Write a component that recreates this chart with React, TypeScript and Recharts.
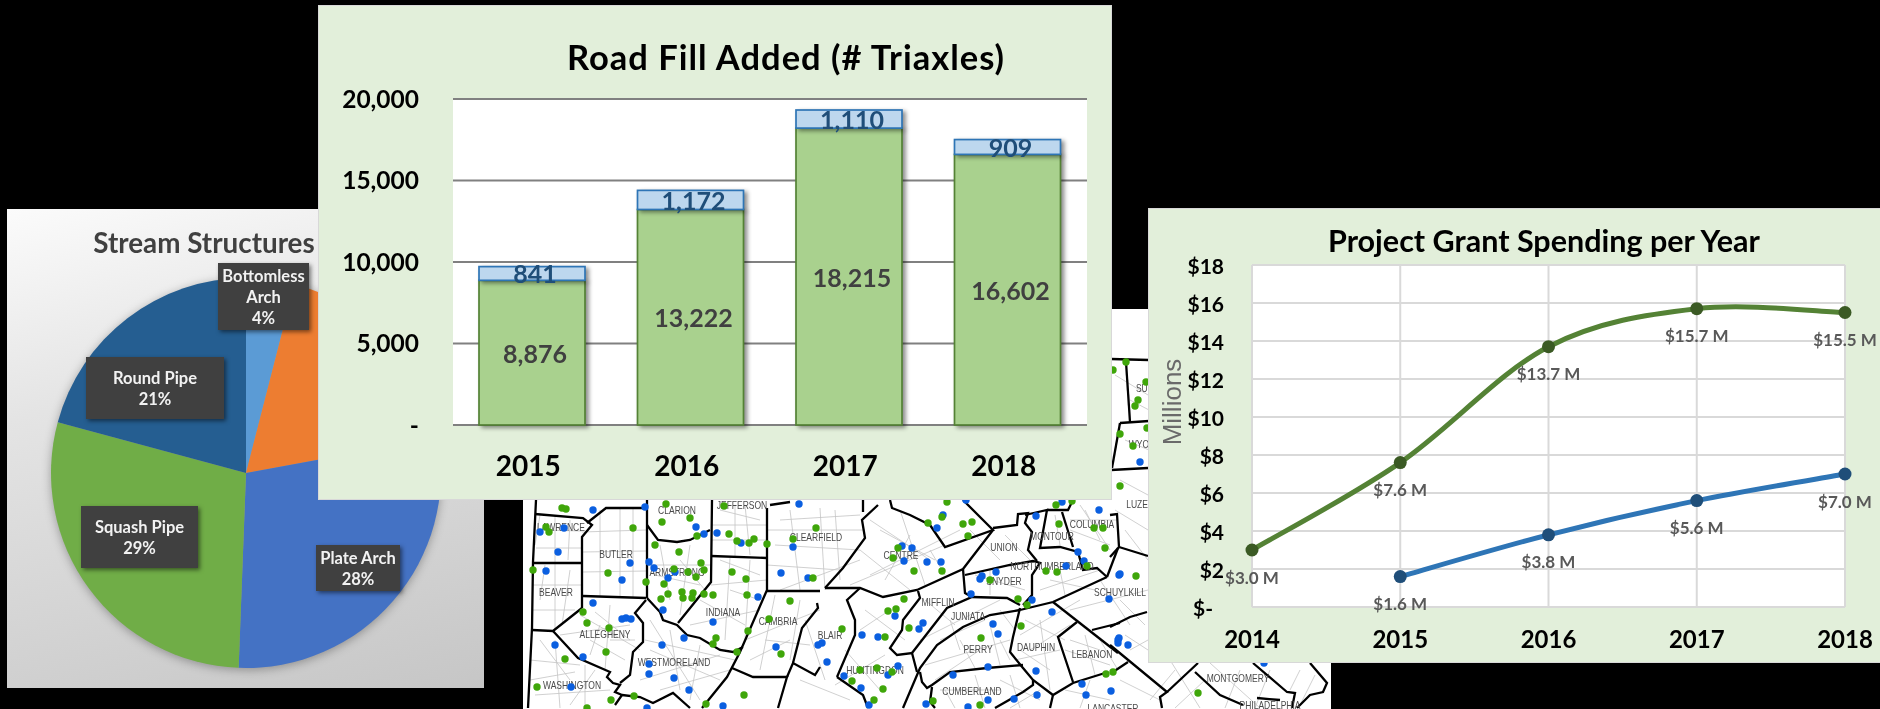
import React from 'react';
import {
  BarChart, Bar, LineChart, Line, PieChart, Pie, Cell, ScatterChart, Scatter,
  XAxis, YAxis, CartesianGrid, LabelList,
} from 'recharts';

// ---- Road fill chart data
const roadYears = ['2015', '2016', '2017', '2018'];
const roadBase = [8876, 13222, 18215, 16602];
const roadAdded = [841, 1172, 1110, 909];
const roadTicks = [0, 5000, 10000, 15000, 20000];

// ---- Grant spending data
const grantYears = ['2014', '2015', '2016', '2017', '2018'];
const grantTotal = [3.0, 7.6, 13.7, 15.7, 15.5];
const grantProject: (number | null)[] = [null, 1.6, 3.8, 5.6, 7.0];
const grantTicks = [0, 2, 4, 6, 8, 10, 12, 14, 16, 18];

// ---- Stream structures data
const pieNames = ['Bottomless Arch', 'Other', 'Plate Arch', 'Squash Pipe', 'Round Pipe'];
const pieValues = [4, 18.1, 28.5, 28.6, 20.8];
const piePercent = ['4%', '', '28%', '29%', '21%'];
const pieColors = ['#5B9BD5', '#ED7D31', '#4472C4', '#70AD47', '#255E91'];

// ---- Map data, in map units
type P = [number, number];
const greenSites: P[] = [[562,508],[566,509],[633,528],[662,522],[666,504],[690,518],[724,506],[729,534],[737,541],[749,543],[754,539],[767,544],[816,528],[793,539],[546,527],[549,532],[697,536],[655,545],[679,552],[533,570],[608,573],[646,582],[664,584],[674,569],[688,572],[696,577],[701,563],[704,570],[732,572],[746,579],[813,578],[661,599],[668,594],[682,592],[683,598],[692,598],[693,593],[704,594],[713,595],[747,595],[790,601],[583,612],[587,623],[609,628],[769,619],[748,631],[716,638],[713,644],[737,652],[606,652],[781,654],[565,659],[537,687],[611,700],[634,696],[744,695],[706,704],[587,708],[947,502],[928,523],[942,517],[963,524],[972,522],[968,536],[1056,505],[1072,501],[1059,524],[1094,528],[1103,528],[1105,548],[898,548],[893,558],[914,571],[942,571],[1046,571],[1057,572],[1087,566],[990,580],[1018,599],[1027,605],[904,599],[888,611],[896,609],[842,629],[909,628],[885,637],[1021,626],[981,638],[860,670],[877,668],[892,672],[852,681],[883,689],[874,700],[933,701],[980,705],[1106,674],[1113,672],[1126,362],[1113,370],[1146,382],[1138,400],[1135,406],[1120,434],[1133,446],[1147,428],[1120,486],[1136,576],[1198,693]];
const blueSites: P[] = [[593,510],[645,507],[799,504],[540,532],[564,528],[558,552],[696,527],[704,534],[717,533],[741,543],[793,547],[630,563],[649,562],[654,568],[668,578],[622,580],[675,572],[781,573],[808,578],[546,571],[593,603],[663,610],[758,597],[622,619],[626,618],[631,619],[713,622],[684,638],[662,645],[555,645],[583,657],[776,647],[818,645],[649,664],[649,674],[674,678],[689,690],[571,687],[723,706],[647,708],[966,500],[1062,502],[1036,516],[1099,510],[943,515],[937,528],[902,546],[912,548],[904,561],[927,562],[941,562],[1078,552],[1084,561],[1066,566],[996,572],[982,576],[980,579],[971,594],[1032,600],[1052,612],[1109,599],[1119,575],[923,623],[919,629],[895,616],[993,624],[998,634],[862,635],[878,637],[822,643],[827,662],[898,666],[888,675],[844,676],[861,688],[869,705],[926,704],[988,667],[953,675],[1036,671],[1082,684],[1111,691],[1086,695],[1037,695],[1014,699],[988,700],[968,707],[1118,640],[1140,462],[1120,574],[1119,638],[1118,643],[1128,645],[1264,663]];
const countyLines: P[][] = [
  [[536,500],[533,562],[532,628],[528,708]],
  [[535,514],[583,518],[592,525],[582,537],[582,595],[582,608]],
  [[587,523],[606,508],[646,508]],
  [[647,500],[647,598]],
  [[533,563],[582,563]],
  [[583,596],[646,598]],
  [[647,598],[660,612],[663,620],[677,625],[687,635],[700,638],[720,650],[733,652],[743,647]],
  [[647,525],[658,540],[677,542],[690,540],[710,530]],
  [[712,500],[711,582],[678,623]],
  [[711,556],[767,558]],
  [[767,508],[767,590],[740,652],[727,677],[702,708]],
  [[770,505],[790,502]],
  [[767,591],[820,591]],
  [[582,608],[553,631],[532,630]],
  [[553,631],[578,658],[610,672],[607,677],[613,683],[620,685],[615,692],[622,695],[615,705]],
  [[646,600],[635,613],[643,623],[643,642],[633,652],[630,675],[620,683]],
  [[622,695],[640,697],[653,703],[673,693],[690,708]],
  [[732,668],[753,677],[787,677],[778,708]],
  [[787,677],[793,663],[815,675],[820,667]],
  [[793,663],[802,628],[818,608],[817,603]],
  [[825,588],[843,568],[865,538],[862,520],[878,505]],
  [[863,512],[863,500]],
  [[890,500],[892,508],[910,515],[930,525],[945,547],[993,530],[963,500]],
  [[825,588],[860,588],[883,597],[917,590],[963,569],[993,530]],
  [[860,588],[847,600],[855,620],[855,635],[837,677]],
  [[918,591],[920,598],[903,620],[902,630],[890,648],[897,655],[912,653],[917,672]],
  [[912,653],[947,608],[972,597],[1007,598],[1020,605]],
  [[963,569],[965,593],[972,597]],
  [[965,575],[1010,565],[1033,561],[1040,563],[1032,575],[1032,595],[1023,605]],
  [[993,528],[1017,525],[1018,514],[1028,513],[1025,523],[1032,532],[1028,550],[1037,561]],
  [[1025,515],[1047,510],[1040,548],[1060,547],[1078,552],[1083,570],[1097,568],[1107,577]],
  [[1062,512],[1073,547]],
  [[1047,510],[1068,510],[1073,500]],
  [[1020,610],[990,615],[963,627],[937,645],[920,668],[903,708]],
  [[1107,577],[1118,548]],
  [[1107,577],[1053,602],[1020,610]],
  [[1053,602],[1118,653]],
  [[1077,622],[1058,637],[1073,682]],
  [[1092,630],[1120,623]],
  [[1020,608],[1013,637],[1010,652],[1023,668],[1033,680],[1053,695],[1073,683],[1105,673]],
  [[920,672],[922,682],[927,688],[932,685],[950,672],[987,668],[1023,665]],
  [[932,687],[930,702],[935,708]],
  [[837,677],[863,695],[868,708]],
  [[1053,695],[1050,708]],
  [[1033,680],[1033,685],[1023,692],[995,708]],
  [[1110,515],[1117,514],[1119,547],[1110,557]],
  [[1119,547],[1148,556]],
  [[1110,627],[1130,617],[1147,612]],
  [[1110,645],[1167,692],[1160,697],[1162,708]],
  [[1113,672],[1128,662]],
  [[1167,692],[1198,663]],
  [[1195,672],[1220,695],[1243,705]],
  [[1253,663],[1287,692],[1295,693],[1292,708]],
  [[1257,698],[1280,700]],
  [[1310,663],[1327,683],[1323,692],[1310,695],[1297,708]],
  [[1111,359],[1149,360]],
  [[1126,362],[1130,422]],
  [[1120,423],[1149,421]],
  [[1120,423],[1112,468]],
  [[1111,470],[1148,468]],
];
const townshipLines: P[][] = [
  [[582,532],[646,530]],[[582,552],[646,551]],[[582,572],[646,571]],[[600,510],[600,596]],[[620,508],[620,596]],[[633,508],[633,597]],
  [[536,530],[582,531]],[[536,548],[582,548]],[[555,516],[555,562]],
  [[533,585],[582,585]],[[555,563],[555,630]],[[533,610],[575,610]],
  [[648,565],[711,565]],[[660,545],[670,600]],[[690,545],[680,615]],
  [[712,525],[767,525]],[[735,505],[735,556]],[[712,540],[767,540]],
  [[767,530],[865,530]],[[790,510],[800,590]],[[820,508],[825,590]],[[767,565],[840,570]],
  [[711,585],[767,580]],[[730,558],[725,640]],[[690,625],[760,610]],[[750,560],[745,640]],
  [[645,640],[735,660]],[[640,680],[720,655]],[[670,630],[680,690]],[[700,645],[690,700]],
  [[580,615],[640,650]],[[610,605],[605,670]],[[560,635],[630,625]],
  [[530,660],[580,665]],[[555,640],[560,708]],[[535,695],[610,690]],[[585,665],[585,708]],
  [[745,640],[820,610]],[[775,595],[760,670]],[[800,600],[790,660]],
  [[870,575],[960,530]],[[880,530],[935,560]],[[900,510],[925,585]],[[850,585],[945,545]],
  [[920,640],[1000,600]],[[950,620],[960,650]],
  [[925,665],[1010,640]],[[960,640],[975,668]],[[990,625],[1000,665]],
  [[1020,635],[1080,600]],[[1015,660],[1060,650]],[[1040,620],[1050,690]],
  [[1065,650],[1110,665]],[[1085,635],[1095,675]],
  [[1040,590],[1100,570]],[[1060,570],[1065,595]],
  [[1080,505],[1110,550]],[[1070,520],[1118,520]],
  [[1070,610],[1148,590]],[[1100,580],[1130,625]],
  [[1170,660],[1200,708]],[[1210,663],[1260,708]],
  [[1115,375],[1148,395]],[[1130,400],[1149,410]],[[1125,440],[1149,450]],[[1120,480],[1148,495]],[[1115,510],[1148,530]],[[1125,530],[1148,560]],
  [[800,680],[850,700]],[[1000,680],[1040,700]],[[940,690],[1000,690]],[[1120,680],[1160,700]],
  [[540,515],[535,545]],[[570,520],[568,560]],[[545,565],[540,600]],[[570,570],[562,625]],[[590,640],[625,660]],[[595,612],[630,640]],[[600,625],[590,655]],
  [[610,640],[635,640]],[[540,640],[570,680]],[[530,680],[575,672]],[[595,670],[570,705]],[[650,620],[700,700]],[[650,650],[720,680]],[[660,690],[730,670]],
  [[730,590],[760,600]],[[700,600],[745,625]],[[720,560],[760,575]],[[680,560],[705,590]],[[655,575],[700,585]],[[720,510],[760,520]],[[745,505],[750,555]],
  [[780,520],[860,515]],[[775,545],[860,550]],[[835,510],[840,580]],[[780,590],[860,560]],[[765,640],[810,645]],[[750,660],[790,640]],[[805,620],[825,680]],
  [[870,520],[930,560]],[[860,550],[910,590]],[[910,535],[885,580]],[[930,550],[945,575]],[[865,610],[905,640]],[[860,630],[890,610]],[[845,650],[880,690]],[[835,685],[885,655]],
  [[970,530],[1000,560]],[[1005,535],[1030,560]],[[975,575],[1025,590]],[[990,570],[990,595]],[[925,600],[955,625]],[[940,640],[985,620]],[[1000,610],[1015,630]],
  [[935,680],[980,650]],[[1000,640],[1010,660]],[[945,690],[955,708]],[[975,675],[985,708]],[[1010,675],[1020,708]],[[1040,690],[1010,708]],
  [[1025,620],[1065,640]],[[1030,650],[1070,625]],[[1020,650],[1050,670]],[[1070,640],[1100,650]],[[1100,640],[1118,670]],[[1065,690],[1110,700]],[[1090,680],[1080,708]],
  [[1055,515],[1060,545]],[[1085,510],[1100,540]],[[1070,530],[1110,545]],[[1050,580],[1095,590]],[[1120,600],[1145,625]],[[1125,635],[1148,650]],[[1130,650],[1148,640]],
  [[1175,670],[1150,700]],[[1205,680],[1175,708]],[[1240,670],[1225,708]],[[1270,670],[1255,708]],[[1300,670],[1290,690]],[[1315,675],[1300,705]],
];
const countyNames = ['LAWRENCE','BUTLER','ARMSTRONG','CLARION','JEFFERSON','BEAVER','INDIANA','CAMBRIA','ALLEGHENY','WESTMORELAND','WASHINGTON','CLEARFIELD','CENTRE','UNION','MONTOUR','COLUMBIA','NORTHUMBERLAND','SNYDER','MIFFLIN','JUNIATA','BLAIR','HUNTINGDON','PERRY','DAUPHIN','LEBANON','CUMBERLAND','SCHUYLKILL','LUZERNE','SUSQ','WYOMING','MONTGOMERY','PHILADELPHIA','LANCASTER'];
const countyX = [561,616,677,677,742,556,723,778,605,674,572,816,901,1004,1052,1092,1052,1004,938,968,830,875,978,1036,1092,972,1120,1146,1148,1150,1238,1270,1113];
const countyY = [527,554,572,510,505,592,612,621,634,662,685,537,555,547,536,524,566,581,602,616,635,670,649,647,654,691,592,504,388,444,678,705,708];

// ---- Layout constants
const CALIBRI = 'Lato, "Open Sans", sans-serif';
const pieBoxes = [
  { x: 218, y: 263, w: 91, h: 67, lines: ['Bottomless', 'Arch'] },
  null,
  { x: 316, y: 545, w: 84, h: 46, lines: ['Plate Arch'] },
  { x: 81, y: 506, w: 117, h: 62, lines: ['Squash Pipe'] },
  { x: 86, y: 357, w: 138, h: 62, lines: ['Round Pipe'] },
];
const PIE_LEFT = 7;
const PIE_TOP = 209;

const roadRows = roadYears.map((year, i) => ({ year, base: roadBase[i], added: roadAdded[i] }));
const grantRows = grantYears.map((year, i) => ({ year, total: grantTotal[i], project: grantProject[i] }));
const pieRows = pieNames.map((name, i) => ({ name, value: pieValues[i] }));
const countyRows = countyNames.map((name, i) => ({ name, x: countyX[i], y: countyY[i] }));
const toRows = (pts: P[]) => pts.map(([x, y]) => ({ x, y }));

// Excel-style smoothing of a line through its points
function excelCurve(context: any) {
  let pts: number[][] = [];
  return {
    areaStart() {},
    areaEnd() {},
    lineStart() { pts = []; },
    point(x: number, y: number) { pts.push([x, y]); },
    lineEnd() {
      const n = pts.length;
      if (!n) return;
      context.moveTo(pts[0][0], pts[0][1]);
      for (let i = 0; i < n - 1; i++) {
        const p0 = pts[Math.max(i - 1, 0)], p1 = pts[i], p2 = pts[i + 1], p3 = pts[Math.min(i + 2, n - 1)];
        context.bezierCurveTo(
          p1[0] + (p2[0] - p0[0]) / 6, p1[1] + (p2[1] - p0[1]) / 6,
          p2[0] - (p3[0] - p1[0]) / 6, p2[1] - (p3[1] - p1[1]) / 6,
          p2[0], p2[1],
        );
      }
    },
  };
}

const panel = (left: number, top: number, width: number, height: number, background: string): React.CSSProperties => ({
  position: 'absolute', left, top, width, height, background, boxSizing: 'border-box',
});

function PieLabel(props: any) {
  const box = pieBoxes[props.index];
  if (!box) return null;
  const bx = box.x - PIE_LEFT, by = box.y - PIE_TOP;
  const all = [...box.lines, piePercent[props.index]];
  const step = 21;
  const start = by + box.h / 2 - ((all.length - 1) * step) / 2;
  return (
    <g>
      <rect x={bx} y={by} width={box.w} height={box.h} fill="#404040" style={{ filter: 'drop-shadow(2px 2px 2px rgba(0,0,0,.5))' }} />
      {all.map((t, i) => (
        <text key={i} x={bx + box.w / 2} y={start + i * step} textAnchor="middle" dominantBaseline="central"
          fontFamily={CALIBRI} fontWeight={700} fontSize={16.5} fill="#F2F2F2">{t}</text>
      ))}
    </g>
  );
}

function ShadowBar(props: any) {
  const { x, y, width, height, fill, stroke } = props;
  return <rect x={x} y={y} width={width} height={height} fill={fill} stroke={stroke} strokeWidth={1.7}
    style={{ filter: 'drop-shadow(3px 2px 2px rgba(0,0,0,.45))' }} />;
}

const barLabel = (color: string) => (props: any) => {
  const { x, y, width, height, value } = props;
  return (
    <text x={x + width / 2 + 3} y={y + height / 2} textAnchor="middle" dominantBaseline="central"
      fontFamily={CALIBRI} fontWeight={700} fontSize={25} fill={color}>{Number(value).toLocaleString('en-US')}</text>
  );
};

const grantLabel = (props: any) => {
  const { x, y, value } = props;
  if (value == null) return null;
  return (
    <text x={x} y={y + 27} textAnchor="middle" dominantBaseline="central"
      fontFamily={CALIBRI} fontWeight={700} fontSize={17} fill="#595959">{`$${Number(value).toFixed(1)} M`}</text>
  );
};

const grantTick = (props: any) => {
  const { x, y, payload } = props;
  const zero = payload.value === 0;
  return (
    <text x={zero ? x - 11 : x} y={y} textAnchor="end" dominantBaseline="central"
      fontFamily={CALIBRI} fontWeight={700} fontSize={21} fill="#000">{zero ? '$-' : `$${payload.value}`}</text>
  );
};

const emptyShape = () => null;
const blueDot = (p: any) => <circle cx={p.cx} cy={p.cy} r={3.7} fill="#0B5FE0" />;
const greenDot = (p: any) => <circle cx={p.cx} cy={p.cy} r={3.7} fill="#3FA60A" />;
const countyText = (p: any) => (
  <text transform={`translate(${p.cx} ${p.cy}) scale(0.81 1)`} textAnchor="middle" dominantBaseline="central"
    fontFamily='"Liberation Sans", sans-serif' fontSize={10.5} fill="#4a4a4a">{p.payload.name}</text>
);

function MapPanel() {
  return (
    <div style={panel(523, 309, 808, 400, '#fff')}>
      <ScatterChart width={808} height={400} margin={{ top: 0, right: 0, bottom: 0, left: 0 }}>
        <XAxis type="number" dataKey="x" domain={[523, 1331]} hide allowDataOverflow />
        <YAxis type="number" dataKey="y" domain={[309, 709]} reversed hide allowDataOverflow />
        {townshipLines.map((l, i) => (
          <Scatter key={'t' + i} data={toRows(l)} shape={emptyShape} line={{ stroke: '#c4c4c4', strokeWidth: 0.8 }} isAnimationActive={false} />
        ))}
        {countyLines.map((l, i) => (
          <Scatter key={'c' + i} data={toRows(l)} shape={emptyShape} line={{ stroke: '#000', strokeWidth: 2.3 }} isAnimationActive={false} />
        ))}
        <Scatter data={countyRows} shape={countyText} isAnimationActive={false} />
        <Scatter data={toRows(blueSites)} shape={blueDot} isAnimationActive={false} />
        <Scatter data={toRows(greenSites)} shape={greenDot} isAnimationActive={false} />
      </ScatterChart>
    </div>
  );
}

function StreamPanel() {
  return (
    <div className="stream" style={panel(PIE_LEFT, PIE_TOP, 477, 479, 'linear-gradient(165deg,#fbfbfb 0%,#e4e4e4 35%,#c6c6c6 100%)')}>
      <style>{'.stream .recharts-pie{filter:drop-shadow(0 2px 5px rgba(0,0,0,.3))}'}</style>
      <PieChart width={477} height={479} margin={{ top: 0, right: 0, bottom: 0, left: 0 }}>
        <text x={197} y={33} textAnchor="middle" dominantBaseline="central" fontFamily={CALIBRI} fontWeight={700} fontSize={27.8} fill="#404040">Stream Structures</text>
        <Pie data={pieRows} dataKey="value" nameKey="name" cx={239} cy={264} outerRadius={195} startAngle={90} endAngle={-270}
          stroke="none" label={PieLabel} labelLine={false} isAnimationActive={false}>
          {pieRows.map((r, i) => <Cell key={r.name} fill={pieColors[i]} />)}
        </Pie>
      </PieChart>
    </div>
  );
}

function RoadPanel() {
  return (
    <div style={{ ...panel(319, 6, 792, 493, '#E2EFDA'), boxShadow: '0 0 0 1px #d8d8d8' }}>
      <BarChart width={792} height={493} data={roadRows} margin={{ top: 93, right: 24, bottom: 0, left: 0 }} barSize={106}>
        <text x={467} y={50} textAnchor="middle" dominantBaseline="central" fontFamily={CALIBRI} fontWeight={700} fontSize={34.5} letterSpacing={1} fill="#000">Road Fill Added (# Triaxles)</text>
        <CartesianGrid vertical={false} fill="#fff" stroke="#808080" strokeWidth={2} />
        <XAxis dataKey="year" height={74} axisLine={false} tickLine={false} tickSize={0} tickMargin={31}
          tick={{ fontFamily: CALIBRI, fontWeight: 700, fontSize: 28, fill: '#000', dx: -4 }} />
        <YAxis width={134} domain={[0, 20000]} ticks={roadTicks} axisLine={false} tickLine={false} tickSize={0} tickMargin={34}
          tickFormatter={(v: number) => (v === 0 ? '-' : v.toLocaleString('en-US'))}
          tick={{ fontFamily: CALIBRI, fontWeight: 700, fontSize: 24.5, fill: '#000' }} />
        <Bar dataKey="base" stackId="a" fill="#A9D18E" stroke="#548235" shape={ShadowBar} isAnimationActive={false}>
          <LabelList dataKey="base" content={barLabel('#404040')} />
        </Bar>
        <Bar dataKey="added" stackId="a" fill="#BDD7EE" stroke="#2E75B6" shape={ShadowBar} isAnimationActive={false}>
          <LabelList dataKey="added" content={barLabel('#1F4E79')} />
        </Bar>
      </BarChart>
    </div>
  );
}

function GrantPanel() {
  return (
    <div style={{ ...panel(1149, 209, 731, 453, '#E2EFDA'), boxShadow: '0 0 0 1px #d8d8d8' }}>
      <LineChart width={731} height={453} data={grantRows} margin={{ top: 56, right: 35, bottom: 0, left: 0 }}>
        <text x={395} y={31} textAnchor="middle" dominantBaseline="central" fontFamily={CALIBRI} fontWeight={700} fontSize={30.5} fill="#000">Project Grant Spending per Year</text>
        <text x={23} y={193} textAnchor="middle" dominantBaseline="central" transform="rotate(-90 23 193)" fontFamily='"Liberation Sans", sans-serif' fontSize={26} fill="#6a6a6a">Millions</text>
        <CartesianGrid fill="#fff" stroke="#D9D9D9" strokeWidth={2} />
        <XAxis dataKey="year" height={55} axisLine={false} tickLine={false} tickSize={0} tickMargin={24} interval={0}
          tick={{ fontFamily: CALIBRI, fontWeight: 700, fontSize: 24, fill: '#000' }} />
        <YAxis width={103} domain={[0, 18]} ticks={grantTicks} axisLine={false} tickLine={false} tickSize={0} tickMargin={28} tick={grantTick} />
        <Line dataKey="total" type={excelCurve as any} stroke="#548235" strokeWidth={5}
          dot={{ r: 6.5, fill: '#3B5A24', stroke: 'none' }} label={grantLabel} isAnimationActive={false} />
        <Line dataKey="project" type={excelCurve as any} stroke="#2E75B6" strokeWidth={5}
          dot={{ r: 6.5, fill: '#1F4E79', stroke: 'none' }} label={grantLabel} isAnimationActive={false} />
      </LineChart>
    </div>
  );
}

export default function App() {
  return (
    <div style={{ position: 'fixed', left: 0, top: 0, width: 1880, height: 709, background: '#000', overflow: 'hidden', filter: 'blur(0.4px)' }}>
      <MapPanel />
      <StreamPanel />
      <RoadPanel />
      <GrantPanel />
    </div>
  );
}
